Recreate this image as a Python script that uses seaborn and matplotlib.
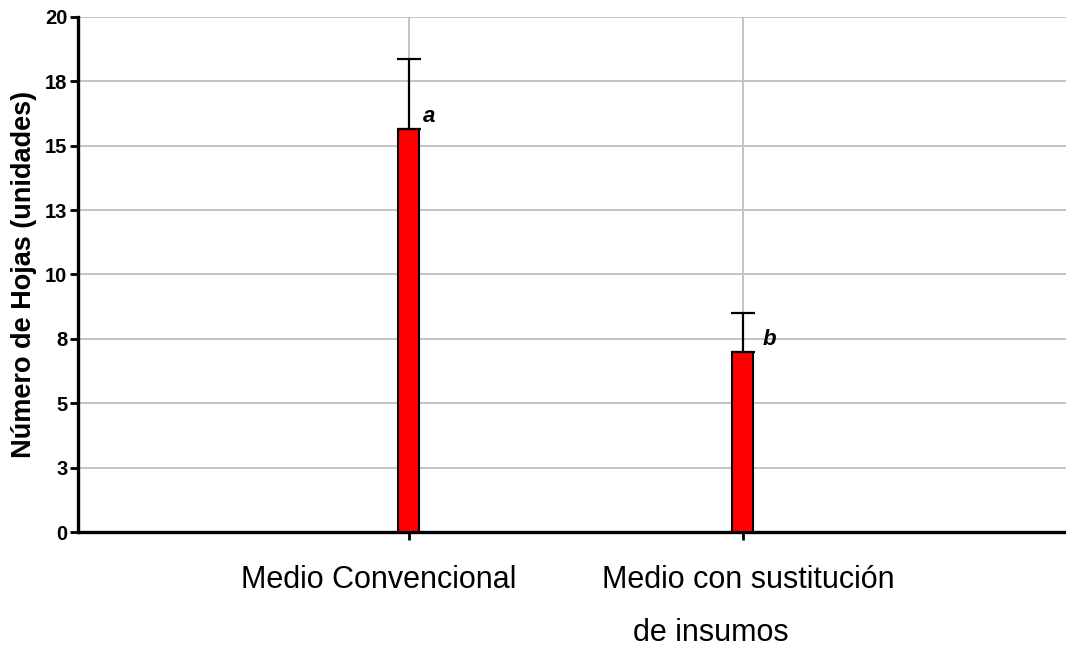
import numpy as np
import pandas as pd
import matplotlib
matplotlib.use("Agg")
import matplotlib.pyplot as plt
import matplotlib.transforms as mtransforms
import seaborn as sns

# Data: mean number of leaves per culture medium, with standard deviation
categories = ["Medio Convencional", "Medio con sustitución\nde insumos"]
means = [15.64, 6.98]
errors = [2.73, 1.52]
letters = ["a", "b"]

# Y axis ticks (every 2.5 units, labels rounded)
ytick_values = [0, 2.5, 5, 7.5, 10, 12.5, 15, 17.5, 20]
ytick_labels = ["0", "3", "5", "8", "10", "13", "15", "18", "20"]

df = pd.DataFrame({"medio": categories, "hojas": means})

sns.set_theme(style="white")
plt.rcParams["font.family"] = ["Liberation Sans", "DejaVu Sans"]
plt.rcParams["text.color"] = "black"
plt.rcParams["axes.labelcolor"] = "black"
plt.rcParams["xtick.color"] = "black"
plt.rcParams["ytick.color"] = "black"

fig = plt.figure(figsize=(10.66, 6.52), dpi=100)
ax = fig.add_axes([0.073, 0.184, 0.927, 0.790])

sns.barplot(data=df, x="medio", y="hojas", color="#ff0000", width=0.063,
            edgecolor="black", linewidth=1.5, saturation=1, ax=ax, zorder=3)

x = np.arange(len(categories))
ax.errorbar(x, means, yerr=[np.zeros(len(errors)), errors], fmt="none",
            ecolor="black", elinewidth=1.6, capsize=8.6, capthick=1.6, zorder=4)

# Significance letters next to each bar
for xi, m, e, let, dx in zip(x, means, errors, letters, [0.042, 0.06]):
    ax.text(xi + dx, m + 0.3, let, fontsize=16, fontweight="bold",
            fontstyle="italic", ha="left", va="baseline", color="black",
            zorder=5)

ax.set_xlim(-0.991, 1.967)
ax.set_ylim(0, 20)
ax.set_yticks(ytick_values)
ax.set_yticklabels(ytick_labels, fontsize=14.5, fontweight="bold")
ax.set_xticks(x)
ax.set_xticklabels([])

# Category labels under the axis
trans = mtransforms.blended_transform_factory(ax.transData, ax.transAxes)
line_offsets = [[-0.09], [0.015, -0.096]]
for xi, cat, offs in zip(x, categories, line_offsets):
    for k, (line, dx) in enumerate(zip(cat.split("\n"), offs)):
        ax.text(xi + dx, -0.109 - k * 0.103, line, transform=trans,
                fontsize=22, ha="center", va="baseline", color="black")

ax.set_xlabel("")
ax.set_ylabel("Número de Hojas (unidades)", fontsize=19.5, fontweight="bold")
ax.yaxis.set_label_coords(-0.041, 0.5)

ax.grid(True, axis="both", color="#c4c4c4", linewidth=1.4, zorder=0)
ax.set_axisbelow(True)

for side in ["top", "right"]:
    ax.spines[side].set_visible(False)
for side in ["left", "bottom"]:
    ax.spines[side].set_color("black")
    ax.spines[side].set_linewidth(2.4)

ax.tick_params(axis="both", which="major", direction="out", length=6,
               width=2, color="black", pad=1.5, left=True, bottom=True)

fig.savefig("out.png", dpi=100)
